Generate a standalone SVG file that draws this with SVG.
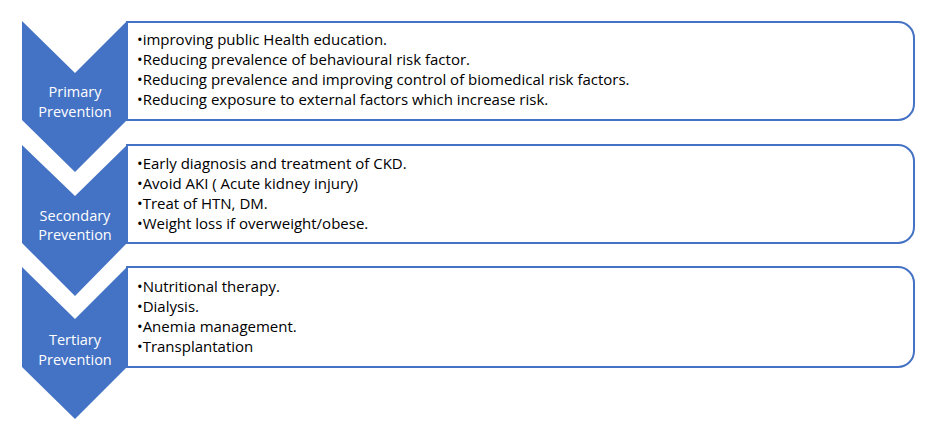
<svg xmlns="http://www.w3.org/2000/svg" width="935" height="441" viewBox="0 0 935 441">
<style>
.chev{fill:#4472C4;}
.box{fill:#FFFFFF;stroke:#4472C4;stroke-width:2;}
.lbl{font-family:"Open Sans","Noto Sans",sans-serif;font-size:14.5px;fill:#FFFFFF;text-anchor:middle;}
.item{font-family:"Open Sans","Noto Sans",sans-serif;font-size:15px;fill:#000000;}
</style>
<rect width="935" height="441" fill="#FFFFFF"/>
<g id="primary-box">
<path class="box" d="M127,22 H898 A16,16 0 0 1 914,38 V104 A16,16 0 0 1 898,120 H127 Z"/>
<text class="item" x="137" y="45">•improving public Health education.</text>
<text class="item" x="137" y="65">•Reducing prevalence of behavioural risk factor.</text>
<text class="item" x="137" y="85">•Reducing prevalence and improving control of biomedical risk factors.</text>
<text class="item" x="137" y="105">•Reducing exposure to external factors which increase risk.</text>
</g>
<g id="secondary-box">
<path class="box" d="M127,145 H898 A16,16 0 0 1 914,161 V227 A16,16 0 0 1 898,243 H127 Z"/>
<text class="item" x="137" y="169">•Early diagnosis and treatment of CKD.</text>
<text class="item" x="137" y="189">•Avoid AKI ( Acute kidney injury)</text>
<text class="item" x="137" y="209">•Treat of HTN, DM.</text>
<text class="item" x="137" y="229">•Weight loss if overweight/obese.</text>
</g>
<g id="tertiary-box">
<path class="box" d="M127,267 H898 A16,16 0 0 1 914,283 V351 A16,16 0 0 1 898,367 H127 Z"/>
<text class="item" x="137" y="292">•Nutritional therapy.</text>
<text class="item" x="137" y="312">•Dialysis.</text>
<text class="item" x="137" y="332">•Anemia management.</text>
<text class="item" x="137" y="352">•Transplantation</text>
</g>
<g id="primary">
<path class="chev" d="M22,21 L75,73 L127,21 L127,120 L75,172 L22,120 Z"/>
<text class="lbl" x="75" y="97">Primary</text>
<text class="lbl" x="75" y="117">Prevention</text>
</g>
<g id="secondary">
<path class="chev" d="M22,145 L75,196 L127,145 L127,243 L75,296 L22,243 Z"/>
<text class="lbl" x="75" y="221">Secondary</text>
<text class="lbl" x="75" y="240">Prevention</text>
</g>
<g id="tertiary">
<path class="chev" d="M22,267 L75,319 L127,267 L127,367 L75,419 L22,367 Z"/>
<text class="lbl" x="75" y="345">Tertiary</text>
<text class="lbl" x="75" y="365">Prevention</text>
</g>
<g id="connectors"></g>
</svg>
